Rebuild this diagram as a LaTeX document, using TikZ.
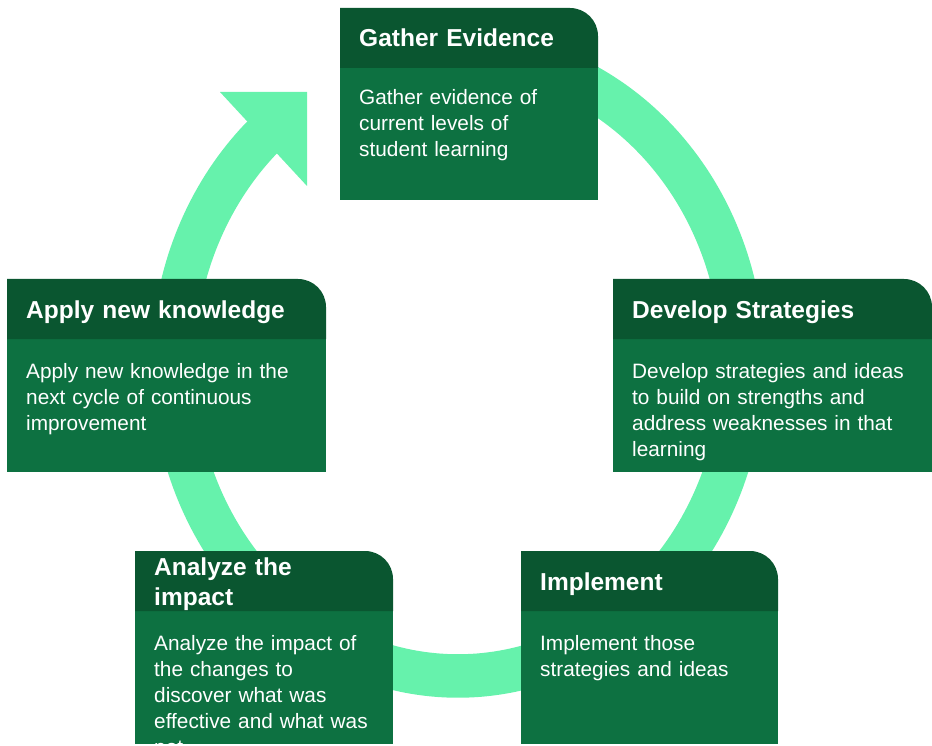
\documentclass[tikz,border=0pt]{standalone}
\usepackage{fontspec}
\setmainfont{Liberation Sans}
\definecolor{ringc}{HTML}{66F2AC}
\definecolor{hdrc}{HTML}{0A5630}
\definecolor{bodyc}{HTML}{0D7141}
\tikzset{
  cardtitle/.style={anchor=base west, inner sep=0pt, text=white,
    font=\fontsize{24.5}{30.7}\selectfont\bfseries, text width=300pt, align=left},
  cardbody/.style={anchor=base west, inner sep=0pt, text=white,
    font=\fontsize{20.8}{26}\selectfont, text width=320pt, align=left},
  hdrfill/.style={fill=hdrc},
  bodyfill/.style={fill=bodyc},
  ringline/.style={draw=ringc, line width=43.5pt},
  ringhead/.style={fill=ringc},
}
% #1 x0, #2 ytop, #3 x1, #4 ybottom
\newcommand{\cardbox}[4]{%
  \path[bodyfill] (#1,#2+60) rectangle (#3,#4);
  \path[hdrfill] (#1,#2+60) -- (#1,#2) -- (#3-28,#2)
     .. controls (#3-12.54,#2) and (#3,#2+12.54) .. (#3,#2+28)
     -- (#3,#2+60) -- cycle;
}
\begin{document}
\begin{tikzpicture}[x=1pt,y=-1pt]
\useasboundingbox (0,0) rectangle (932,746);
% circular arrow
\draw[ringline] plot[domain=-80:227.5, samples=240, variable=\t]
   ({458+285*cos(\t)},{364+312*sin(\t)});
\coordinate (headA) at (220,92);
\coordinate (headB) at (307,92);
\coordinate (headC) at (307,186);
\path[ringhead] (headA) -- (headB) -- (headC) -- cycle;
% cards
\cardbox{340}{8}{598}{200}
\node[cardtitle] (gathert) at (359,47) {Gather Evidence};
\node[cardbody] (gatherb) at (359,105) {Gather evidence of\\current levels of\\student learning};

\cardbox{613}{279}{932}{472}
\node[cardtitle] (developt) at (632,318) {Develop Strategies};
\node[cardbody] (developb) at (632,378) {Develop strategies and ideas\\to build on strengths and\\address weaknesses in that\\learning};

\cardbox{7}{279}{326}{472}
\node[cardtitle] (applyt) at (26,318) {Apply new knowledge};
\node[cardbody] (applyb) at (26,378) {Apply new knowledge in the\\next cycle of continuous\\improvement};

\cardbox{135}{551}{393}{744}
\node[cardtitle] (analyzet) at (154,575) {Analyze the\\impact};
\begin{scope}
\clip (135,611) rectangle (393,744);
\node[cardbody] (analyzeb) at (154,650) {Analyze the impact of\\the changes to\\discover what was\\effective and what was\\not};
\end{scope}

\cardbox{521}{551}{778}{744}
\node[cardtitle] (implementt) at (540,590) {Implement};
\node[cardbody] (implementb) at (540,650) {Implement those\\strategies and ideas};
\end{tikzpicture}
\end{document}
